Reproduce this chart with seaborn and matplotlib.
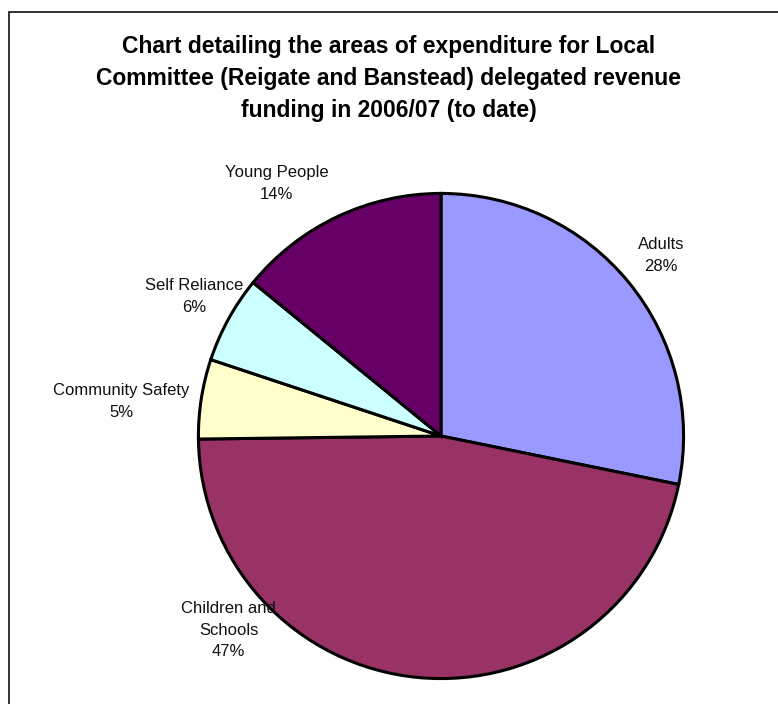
import matplotlib
matplotlib.use("Agg")
import matplotlib.pyplot as plt
import seaborn as sns
from matplotlib.patches import Rectangle

categories = ["Adults", "Children and Schools", "Community Safety", "Self Reliance", "Young People"]
label_text = ["Adults", "Children and\nSchools", "Community Safety", "Self Reliance", "Young People"]
shares = [28.2, 46.6, 5.3, 5.8, 14.1]
colors = ["#9999FF", "#993366", "#FFFFCC", "#CCFFFF", "#660066"]
# label block centres, in pie-radius units
label_pos = [(0.906, 0.745), (-0.875, -0.80), (-1.318, 0.143), (-1.016, 0.576), (-0.678, 1.041)]

title = ("Chart detailing the areas of expenditure for Local\n"
         "Committee (Reigate and Banstead) delegated revenue\n"
         "funding in 2006/07 (to date)")

sns.set_theme(style="white")
plt.rcParams["font.family"] = ["Liberation Sans", "DejaVu Sans"]

W, H = 778, 704
fig = plt.figure(figsize=(W / 100, H / 100), dpi=100)

# outer chart frame (only top and left edges fall inside the image)
fig.patches.append(Rectangle((9 / W, -0.2), 1.2, 1 - 12 / H + 0.2, transform=fig.transFigure,
                             fill=False, edgecolor="#222222", linewidth=1.3))

cx, cy, r = 441, 436, 245
ax = fig.add_axes([(cx - r) / W, (H - cy - r) / H, 2 * r / W, 2 * r / H])
wedges, _ = ax.pie(shares, colors=colors, startangle=90, counterclock=False, radius=1,
                   wedgeprops=dict(edgecolor="black", linewidth=2.2))
ax.set_xlim(-1.01, 1.01)
ax.set_ylim(-1.01, 1.01)
ax.axis("off")

for txt, val, (x, y) in zip(label_text, shares, label_pos):
    ax.text(x, y, f"{txt}\n{val:.0f}%", ha="center", va="center", fontsize=12,
            color="#111111", linespacing=1.55)

fig.text(389 / W, 1 - 79 / H, title, ha="center", va="center", fontsize=16.5,
         fontweight="bold", color="black", linespacing=1.5)

fig.savefig("out.png", dpi=100)
